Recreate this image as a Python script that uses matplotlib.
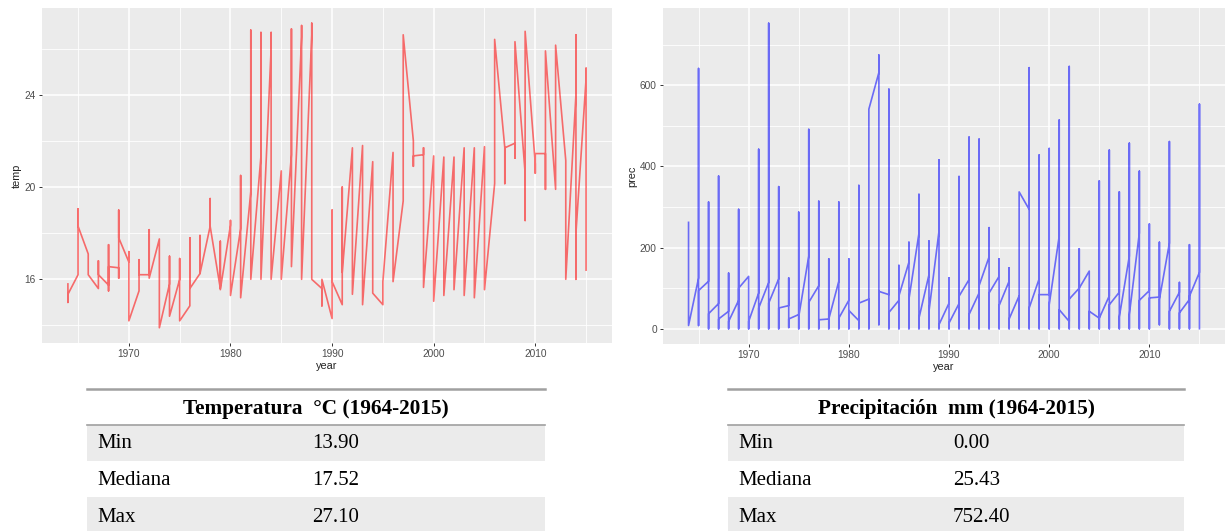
import matplotlib
matplotlib.use("Agg")
import matplotlib.pyplot as plt
from matplotlib.ticker import MultipleLocator
from matplotlib.patches import Rectangle

# one list of readings per year, in the order the line visits them
years = list(range(1964, 2016))

temp_seq = [
    [15.8, 15.0, 15.35], [16.2, 19.05, 18.3], [17.1, 16.2], [15.6, 16.8, 16.2],
    [15.75, 17.5, 15.5, 16.55], [16.5, 16.05, 19.0, 17.8], [16.75, 17.2, 14.2],
    [15.5, 16.85, 16.2], [16.2, 18.15, 16.05], [17.75, 13.9], [15.8, 17.0, 14.4],
    [16.0, 16.9, 14.2], [14.85, 17.8, 15.6], [16.25, 17.9, 16.25], [18.3, 19.5, 18.3],
    [15.6, 17.65, 15.55], [18.35, 18.55, 15.3], [18.2, 20.5, 15.2],
    [19.8, 26.8, 16.0], [21.35, 26.7, 16.0], [26.0, 26.7, 16.0], [20.7, 16.0],
    [21.4, 26.85, 16.55], [26.5, 27.0, 16.0], [26.6, 27.1, 16.0], [15.6, 14.85, 16.0],
    [14.3, 19.0, 15.9], [14.9, 20.0, 16.3], [21.7, 15.35], [21.8, 14.9], [21.1, 15.4],
    [14.9, 15.9], [21.5, 15.9], [19.4, 26.6], [22.0, 20.9, 21.35], [21.4, 21.7, 15.65],
    [21.35, 15.05], [21.3, 15.3], [21.3, 15.55], [21.7, 15.3], [21.7, 15.2],
    [21.75, 15.55], [20.15, 26.4], [21.7, 20.15, 21.7], [21.9, 21.25, 26.3],
    [20.6, 18.55, 26.75], [21.0, 20.6, 21.45], [21.45, 19.9, 25.9], [19.9, 26.15],
    [21.15, 16.0], [24.0, 26.6, 16.0, 18.0], [24.7, 25.15, 16.4],
]

prec_seq = [
    [262, 8], [125, 641, 8, 94], [117, 312, 0, 37], [62, 376, 0, 24],
    [43, 137, 0, 18], [70, 294, 0, 100], [129, 0, 18], [88, 442, 0, 51],
    [114, 752.4, 0, 63], [123, 350, 0, 51], [57, 125, 3, 24], [35, 287, 0, 30],
    [179, 491, 0, 65], [106, 314, 0, 22], [24, 172, 0, 24], [117, 312, 0, 26],
    [70, 172, 0, 45], [20, 353, 0, 63], [73, 0, 541], [631, 674, 10, 92],
    [84, 590, 0, 40], [70, 156, 0, 81], [164, 213, 0, 73], [235, 331, 0, 26],
    [133, 216, 0, 43], [240, 416, 0, 10], [63, 125, 0, 14], [62, 375, 0, 80],
    [121, 472, 0, 35], [88, 467, 0, 106], [177, 249, 0, 88], [129, 172, 0, 57],
    [117, 150, 0, 24], [81, 0, 337], [294, 643, 0, 51], [123, 428, 0, 84],
    [84, 444, 0, 59], [228, 514, 0, 47], [18, 646, 0, 73], [100, 197, 0, 100],
    [142, 0, 43], [26, 364, 0, 26], [81, 440, 0, 59], [90, 337, 0, 29],
    [179, 457, 0, 35], [236, 388, 0, 70], [94, 258, 0, 76], [78, 213, 10, 72],
    [211, 461, 0, 43], [90, 114, 0, 39], [72, 207, 0, 80], [139, 553, 0],
]

row_labels = ["Min", "Mediana", "Max"]
temp_stats = ["13.90", "17.52", "27.10"]
prec_stats = ["0.00", "25.43", "752.40"]
temp_title = "Temperatura  \u00b0C (1964-2015)"
prec_title = "Precipitaci\u00f3n  mm (1964-2015)"


def flatten(seq):
    xs, ys = [], []
    for yr, vals in zip(years, seq):
        for v in vals:
            xs.append(yr)
            ys.append(v)
    return xs, ys


def gg_axes(ax, ylab, major, minor):
    ax.set_facecolor("#EBEBEB")
    for s in ax.spines.values():
        s.set_visible(False)
    ax.xaxis.set_major_locator(MultipleLocator(10))
    ax.xaxis.set_minor_locator(MultipleLocator(5))
    ax.yaxis.set_major_locator(MultipleLocator(major))
    ax.yaxis.set_minor_locator(MultipleLocator(minor))
    ax.grid(which="major", color="white", lw=1.1)
    ax.grid(which="minor", color="white", lw=0.6)
    ax.set_axisbelow(True)
    ax.tick_params(which="major", length=2.5, width=0.7, color="#333333",
                   labelsize=7.3, labelcolor="#4D4D4D", pad=2)
    ax.tick_params(which="minor", length=0)
    ax.set_xlabel("year", fontsize=7.8, labelpad=1, color="#222222")
    ax.set_ylabel(ylab, fontsize=7.8, labelpad=2, color="#222222")
    ax.set_xlim(1961.45, 2017.55)


plt.rcParams["font.family"] = ["Liberation Sans", "DejaVu Sans"]
fig = plt.figure(figsize=(12.3, 5.31), dpi=100)

ax1 = fig.add_axes([42 / 1230, 1 - 343 / 531, 570 / 1230, 335 / 531])
x, y = flatten(temp_seq)
ax1.plot(x, y, color="red", lw=1.2, alpha=0.55)
gg_axes(ax1, "temp", 4, 2)
ax1.set_ylim(13.24, 27.76)

ax2 = fig.add_axes([663 / 1230, 1 - 344 / 531, 562 / 1230, 336 / 531])
x, y = flatten(prec_seq)
ax2.plot(x, y, color="blue", lw=1.2, alpha=0.55)
gg_axes(ax2, "prec", 200, 100)
ax2.set_ylim(-37.6, 790)

# tables below the plots, drawn in pixel coordinates
tab = fig.add_axes([0, 0, 1, 1])
tab.set_xlim(0, 1230)
tab.set_ylim(531, 0)
tab.axis("off")

serif = ["Liberation Serif", "DejaVu Serif"]
for x0, x1, title, stats, vx in [(87, 545, temp_title, temp_stats, 312),
                                  (728, 1184, prec_title, prec_stats, 953)]:
    tab.add_patch(Rectangle((x0, 425), x1 - x0, 36, color="#EBEBEB", lw=0))
    tab.add_patch(Rectangle((x0, 497), x1 - x0, 40, color="#EBEBEB", lw=0))
    tab.plot([x0, x1], [388.5, 388.5], color="#A0A0A0", lw=1.8)
    tab.plot([x0, x1], [425, 425], color="#A0A0A0", lw=1.2)
    tab.text((x0 + x1) / 2, 409, title, ha="center", va="center",
             fontsize=15.3, fontweight="bold", family=serif)
    for i, (lab, val) in enumerate(zip(row_labels, stats)):
        yy = 443 + i * 37.5
        tab.text(x0 + 10, yy, lab, ha="left", va="center", fontsize=15, family=serif)
        tab.text(vx, yy, val, ha="left", va="center", fontsize=15, family=serif)

fig.savefig("out.png", dpi=100)
